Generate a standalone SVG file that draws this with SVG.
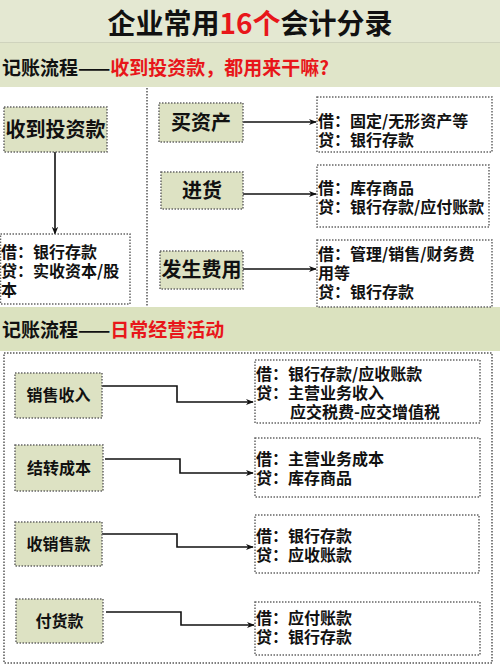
<svg xmlns="http://www.w3.org/2000/svg" width="500" height="666" viewBox="0 0 500 666">
<defs>
<style>
text{font-family:"Noto Sans CJK SC","Noto Sans",sans-serif;font-weight:700;fill:#111}
.red{fill:#e8161a}
.node{fill:#dde2c3;stroke:#666;stroke-width:1.5;stroke-dasharray:1.5 1.5}
.box{fill:#fff;stroke:#666;stroke-width:1.5;stroke-dasharray:1.5 1.5}
.nt{font-size:20px;text-anchor:middle}
.ns{font-size:16px;text-anchor:middle}
.bt{font-size:16px}
.conn{fill:none;stroke:#111;stroke-width:1.6}
</style>
<marker id="ah" viewBox="0 0 10 10" refX="9" refY="5" markerWidth="8" markerHeight="8" markerUnits="userSpaceOnUse" orient="auto">
<path d="M0,1 L10,5 L0,9 L3,5 Z" fill="#111"/>
</marker>
</defs>
<rect x="0" y="0" width="500" height="666" fill="#e3e7d0"/>
<rect x="0" y="0" width="500" height="42" fill="#e4e8d2"/>
<line x1="0" y1="42.5" x2="500" y2="42.5" stroke="#cfd3bd" stroke-width="1"/>
<rect x="0" y="43" width="500" height="44" fill="#e0e5c9"/>
<rect x="0" y="87" width="500" height="220" fill="#fff"/>
<rect x="0" y="307" width="500" height="44" fill="#dbe2bf"/>
<rect x="0" y="351" width="500" height="315" fill="#fff"/>
<line x1="147" y1="88" x2="147" y2="307" stroke="#555" stroke-width="1.5" stroke-dasharray="1.5 1.5"/>
<rect x="4" y="353" width="488" height="310" fill="none" stroke="#555" stroke-width="1.5" stroke-dasharray="1.5 1.5"/>

<g id="title">
<text x="250" y="34" font-size="28" text-anchor="middle">企业常用<tspan class="red">16个</tspan>会计分录</text>
</g>
<g id="header1">
<text x="2" y="75" font-size="19">记账流程——<tspan class="red">收到投资款，都用来干嘛?</tspan></text>
</g>
<g id="header2">
<text x="2" y="337" font-size="19">记账流程——<tspan class="red">日常经营活动</tspan></text>
</g>

<g id="connectors">
<path class="conn" d="M55,152 V234" marker-end="url(#ah)"/>
<path class="conn" d="M243,122 H316" marker-end="url(#ah)"/>
<path class="conn" d="M243,194 H316" marker-end="url(#ah)"/>
<path class="conn" d="M243,269 H316" marker-end="url(#ah)"/>
<path class="conn" d="M102,386 H177 V402 H253" marker-end="url(#ah)"/>
<path class="conn" d="M105,459 H180 V473 H253" marker-end="url(#ah)"/>
<path class="conn" d="M102,534 H177 V547 H253" marker-end="url(#ah)"/>
<path class="conn" d="M106,612 H181 V625 H254" marker-end="url(#ah)"/>
</g>

<g id="n-shoudao">
<rect class="node" x="4" y="107" width="103" height="45"/>
<text class="nt" x="55.5" y="137">收到投资款</text>
</g>
<g id="b-shoudao">
<rect class="box" x="0.5" y="234" width="129.5" height="70"/>
<text class="bt" x="1" y="258">借：银行存款<tspan x="1" dy="19">贷：实收资本/股</tspan><tspan x="1" dy="19">本</tspan></text>
</g>

<g id="n-mai">
<rect class="node" x="159" y="103" width="84" height="39"/>
<text class="nt" x="201" y="129.5">买资产</text>
</g>
<g id="b-mai">
<rect class="box" x="317" y="97" width="175" height="55"/>
<text class="bt" x="318" y="127">借：固定/无形资产等<tspan x="318" dy="19">贷：银行存款</tspan></text>
</g>

<g id="n-jinhuo">
<rect class="node" x="161" y="172" width="82" height="37"/>
<text class="nt" x="202" y="197.5">进货</text>
</g>
<g id="b-jinhuo">
<rect class="box" x="317" y="165" width="172" height="62"/>
<text class="bt" x="318" y="194">借：库存商品<tspan x="318" dy="19">贷：银行存款/应付账款</tspan></text>
</g>

<g id="n-feiyong">
<rect class="node" x="160" y="251" width="83" height="38"/>
<text class="nt" x="201.5" y="277">发生费用</text>
</g>
<g id="b-feiyong">
<rect class="box" x="317" y="240" width="175" height="67"/>
<text class="bt" x="318" y="260">借：管理/销售/财务费<tspan x="318" dy="19">用等</tspan><tspan x="318" dy="19">贷：银行存款</tspan></text>
</g>

<g id="n-xiaoshou">
<rect class="node" x="15" y="373" width="87" height="45"/>
<text class="ns" x="58.5" y="401">销售收入</text>
</g>
<g id="b-xiaoshou">
<rect class="box" x="255" y="360" width="225" height="63"/>
<text class="bt" x="256" y="380">借：银行存款/应收账款<tspan x="256" dy="19">贷：主营业务收入</tspan><tspan x="290" dy="19">应交税费-应交增值税</tspan></text>
</g>

<g id="n-jiezhuan">
<rect class="node" x="15" y="445" width="88" height="46"/>
<text class="ns" x="59" y="473.5">结转成本</text>
</g>
<g id="b-jiezhuan">
<rect class="box" x="255" y="438" width="225" height="59"/>
<text class="bt" x="256" y="465">借：主营业务成本<tspan x="256" dy="19">贷：库存商品</tspan></text>
</g>

<g id="n-shouxiao">
<rect class="node" x="15" y="522" width="87" height="44"/>
<text class="ns" x="58.5" y="549.5">收销售款</text>
</g>
<g id="b-shouxiao">
<rect class="box" x="255" y="515" width="224" height="58"/>
<text class="bt" x="256" y="542">借：银行存款<tspan x="256" dy="19">贷：应收账款</tspan></text>
</g>

<g id="n-fuhuo">
<rect class="node" x="16" y="599" width="87" height="44"/>
<text class="ns" x="59.5" y="626.5">付货款</text>
</g>
<g id="b-fuhuo">
<rect class="box" x="255" y="602" width="225" height="53"/>
<text class="bt" x="256" y="624">借：应付账款<tspan x="256" dy="19">贷：银行存款</tspan></text>
</g>
</svg>
